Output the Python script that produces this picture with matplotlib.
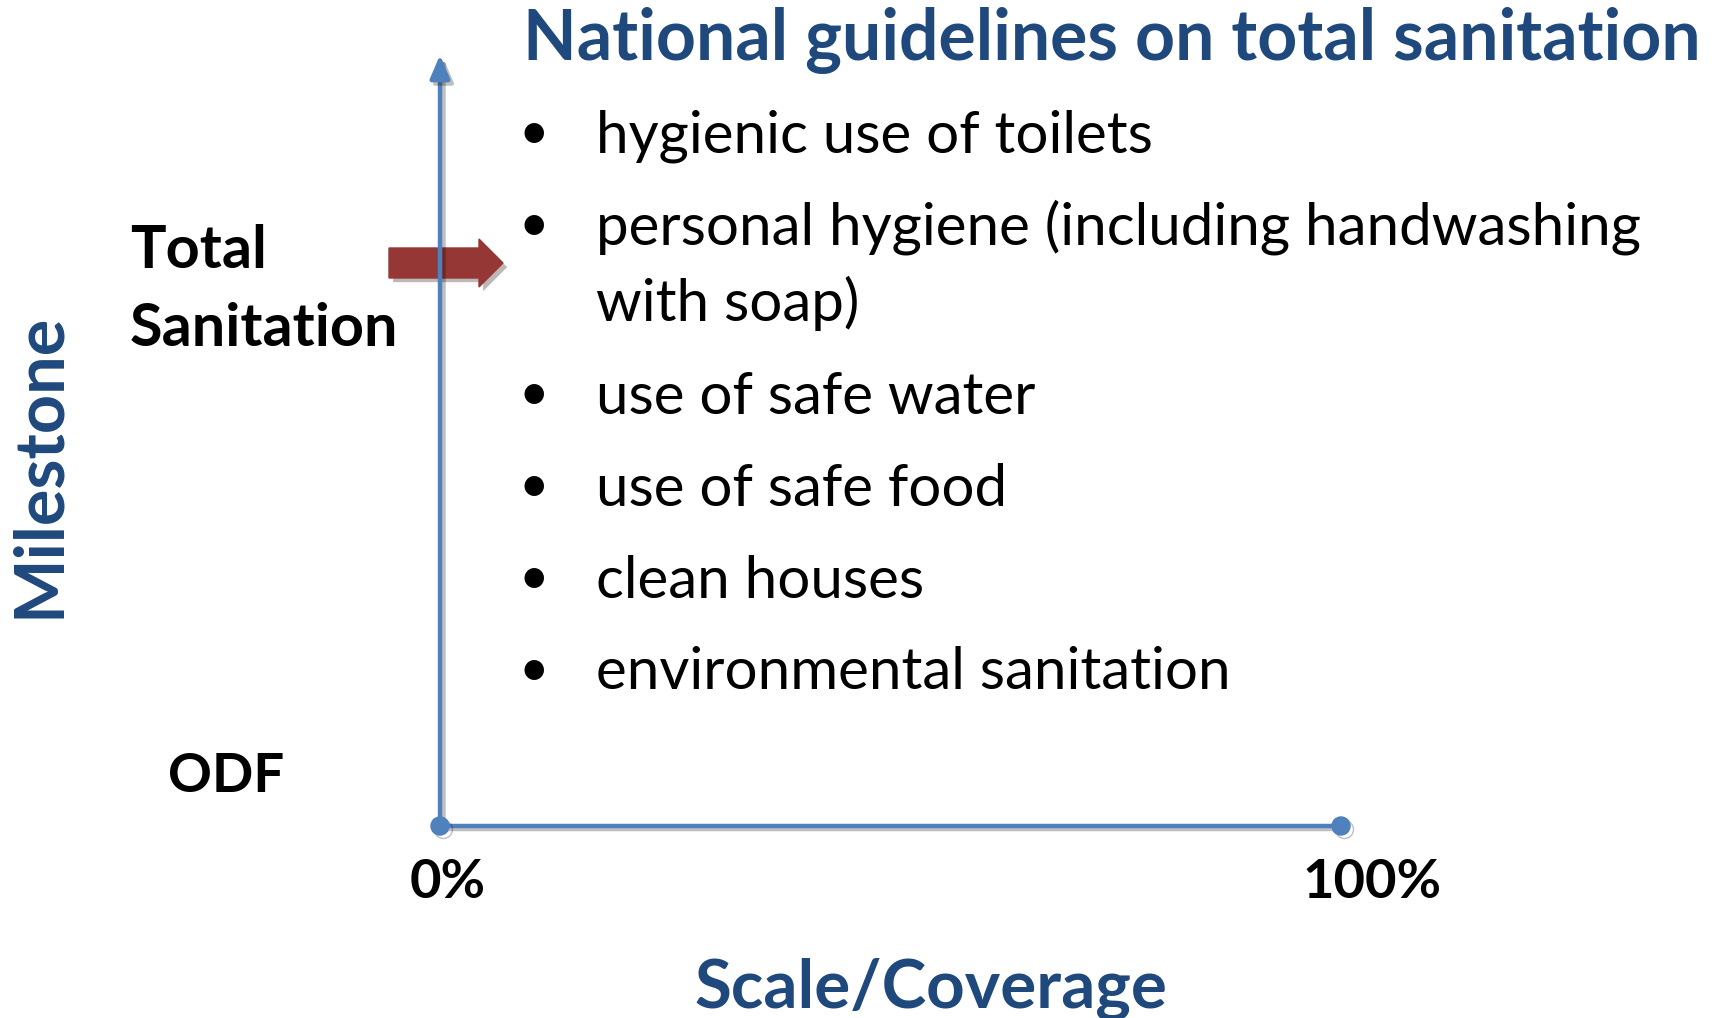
import matplotlib
matplotlib.use("Agg")
import matplotlib.pyplot as plt
import matplotlib.patheffects as pe
from matplotlib.patches import FancyArrow

# chart content
title = "National guidelines on total sanitation"
x_label = "Scale/Coverage"
y_label = "Milestone"
coverage = [0, 100]
coverage_labels = ["0%", "100%"]
milestone_labels = ["ODF", "Total", "Sanitation"]
guidelines = [
    "hygienic use of toilets",
    "personal hygiene (including handwashing\nwith soap)",
    "use of safe water",
    "use of safe food",
    "clean houses",
    "environmental sanitation",
]

# colours
axis_blue = "#4F81BD"
text_blue = "#1F497D"
arrow_red = "#953735"

plt.rcParams['font.family'] = ['Lato', 'DejaVu Sans']

W, H = 1723, 1018
fig = plt.figure(figsize=(W / 100, H / 100), dpi=100)

# background axes in pixel units, for the text layout
bg = fig.add_axes([0, 0, 1, 1])
bg.set_xlim(0, W)
bg.set_ylim(H, 0)
bg.axis('off')

# the coverage / milestone axes
ax = fig.add_axes([440 / W, (H - 826) / H, (1341 - 440) / W, (826 - 55) / H])
ax.set_xlim(0, 100)
ax.set_ylim(0, 100)
ax.axis('off')

shadow = [pe.SimpleLineShadow(offset=(2.5, -2.5), shadow_color='k', alpha=0.25), pe.Normal()]
ax.annotate("", xy=(0, 100), xytext=(0, 0),
            arrowprops=dict(arrowstyle='-|>,head_length=0.7,head_width=0.3', color=axis_blue,
                            lw=3.2, mutation_scale=20, shrinkA=0, shrinkB=0,
                            path_effects=shadow), zorder=2)
ax.plot(coverage, [0, 0], color=axis_blue, lw=3.2, marker='o', ms=13, mec=axis_blue,
        mfc=axis_blue, clip_on=False, path_effects=shadow, zorder=3)

# red arrow pointing at Total Sanitation
arr = FancyArrow(389, 263, 114, 0, width=30, head_width=48, head_length=24,
                 length_includes_head=True, color=arrow_red, zorder=4)
arr.set_path_effects([pe.SimplePatchShadow(offset=(3, -3), alpha=0.3), pe.Normal()])
bg.add_patch(arr)

r = fig.canvas.get_renderer()

def fit_width(t, target):
    w = t.get_window_extent(r).width
    t.set_fontsize(t.get_fontsize() * target / w)

def fit_height(t, target):
    h = t.get_window_extent(r).height
    t.set_fontsize(t.get_fontsize() * target / h)

# title
t = bg.text(523, 60, title, color=text_blue, fontsize=50, fontweight='bold', va='baseline')
fit_width(t, 1180)

# bullet list (baselines in pixels, wrapped lines go 77 px lower)
bullet_y = [152, 244, 414, 506, 598, 689]
probe = bg.text(596, 0, guidelines[0], fontsize=36)
fit_width(probe, 558)
size = probe.get_fontsize()
probe.remove()
for txt, y in zip(guidelines, bullet_y):
    bg.text(534, y - 18, "\u2022", fontsize=size * 0.9, ha='center', va='center', color='black')
    for k, line in enumerate(txt.split("\n")):
        bg.text(596, y + 77 * k, line, fontsize=size, va='baseline', color='black')

# milestone labels
odf = bg.text(168, 776, milestone_labels[0], fontsize=36, fontweight='bold', va='center')
tot = bg.text(130, 251, milestone_labels[1], fontsize=36, fontweight='bold', va='center')
san = bg.text(130, 329, milestone_labels[2], fontsize=36, fontweight='bold', va='center')
fit_width(san, 268)
tot.set_fontsize(san.get_fontsize())

pct0 = bg.text(448, 882, coverage_labels[0], fontsize=36, fontweight='bold', ha='center', va='center')
pct1 = bg.text(1372, 882, coverage_labels[1], fontsize=36, fontweight='bold', ha='center', va='center')
fit_width(pct1, 139)
for tx in (odf, pct0):
    tx.set_fontsize(pct1.get_fontsize())

# axis titles
xl = bg.text(931, 989, x_label, color=text_blue, fontsize=44, fontweight='bold', ha='center', va='center')
fit_width(xl, 473)
yl = bg.text(40, 465, y_label, color=text_blue, fontsize=44, fontweight='bold', ha='center',
             va='center', rotation=90)
fit_height(yl, 305)

fig.savefig("out.png", dpi=100)
